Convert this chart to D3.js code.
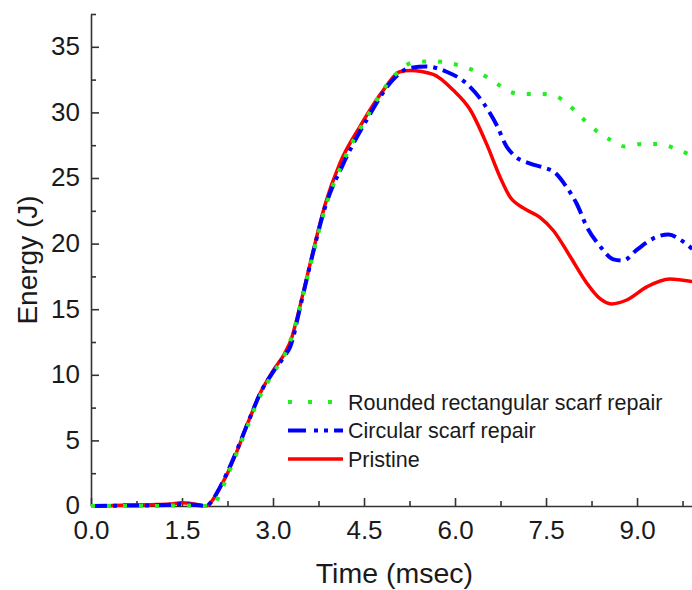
<!DOCTYPE html>
<html>
<head>
<meta charset="utf-8">
<script src="https://d3js.org/d3.v7.min.js"></script>
<style>
    body { margin: 0; background: #fff; }
    text { font-family: "Liberation Sans", Arial, sans-serif; fill: #1a1a1a; }
</style>
</head>
<body>
<div id="chart"></div>
<script>
// Time (msec) / Energy (J) values
var pristineX = [0, 0.5, 1.0, 1.3, 1.5, 1.7, 1.88, 1.98, 2.1, 2.25, 2.4, 2.6, 2.8, 3.0, 3.2, 3.3, 3.4, 3.5, 3.66, 3.86, 4.1, 4.43, 4.82, 5.09, 5.26, 5.64, 5.97, 6.25, 6.52, 6.74, 6.9, 7.13, 7.4, 7.62, 7.9, 8.17, 8.39, 8.58, 8.83, 9.16, 9.54, 9.91];
var pristineY = [0, 0.05, 0.1, 0.15, 0.25, 0.15, 0, 0.3, 1.2, 2.5, 4.1, 6.5, 8.7, 10.3, 11.7, 12.7, 14.4, 16.3, 19.4, 23.0, 26.1, 28.9, 31.7, 33.1, 33.2, 32.9, 31.7, 30.2, 27.6, 25.1, 23.6, 22.7, 22.0, 21.0, 19.0, 17.0, 15.8, 15.4, 15.7, 16.7, 17.3, 17.1];

var circularX = [0, 0.5, 1.0, 1.3, 1.5, 1.7, 1.9, 1.98, 2.1, 2.25, 2.4, 2.6, 2.8, 3.0, 3.2, 3.28, 3.33, 3.4, 3.5, 3.66, 3.86, 4.16, 4.54, 4.98, 5.26, 5.53, 5.86, 6.19, 6.47, 6.69, 6.85, 6.98, 7.24, 7.46, 7.65, 7.84, 8.01, 8.17, 8.39, 8.61, 8.77, 8.99, 9.27, 9.52, 9.71, 9.91];
var circularY = [0, 0.03, 0.05, 0.1, 0.15, 0.1, 0, 0.3, 1.2, 2.6, 4.2, 6.5, 8.7, 10.2, 11.5, 12.1, 12.8, 14.2, 16.2, 19.3, 22.8, 26.1, 29.4, 32.5, 33.4, 33.5, 33.1, 32.2, 30.7, 29.0, 27.4, 26.7, 26.1, 25.8, 25.4, 24.3, 23.0, 21.3, 19.8, 18.8, 18.7, 19.5, 20.4, 20.7, 20.3, 19.6];

var roundedX = [0, 0.5, 1.0, 1.5, 1.9, 2.02, 2.13, 2.25, 2.4, 2.6, 2.8, 3.0, 3.2, 3.33, 3.5, 3.66, 3.86, 4.16, 4.54, 4.98, 5.31, 5.64, 5.97, 6.36, 6.69, 6.85, 7.1, 7.43, 7.68, 7.84, 8.09, 8.25, 8.42, 8.61, 8.8, 9.08, 9.35, 9.6, 9.81, 9.95];
var roundedY = [0, 0, 0, 0.05, 0, 0.1, 1.0, 2.3, 4.0, 6.3, 8.5, 10.1, 11.6, 13.2, 16.2, 19.2, 22.7, 26.3, 29.6, 32.7, 33.8, 33.9, 33.7, 33.1, 32.2, 31.7, 31.4, 31.4, 31.2, 30.7, 29.6, 28.9, 28.3, 27.8, 27.4, 27.6, 27.6, 27.3, 26.9, 26.6];

var seriesNames = ["Rounded rectangular scarf repair", "Circular scarf repair", "Pristine"];
var xTicks = [0, 1.5, 3.0, 4.5, 6.0, 7.5, 9.0];
var yTicks = [0, 5, 10, 15, 20, 25, 30, 35];

var svgWidth = 692;
var svgHeight = 590;

var margin = { top: 14, right: 0, bottom: 84, left: 91 };

var svg = d3.select("#chart")
    .append("svg")
    .attr("width", svgWidth)
    .attr("height", svgHeight);

// axis runs to 10, picture is cut at the right edge
var xScale = d3.scaleLinear()
    .domain([0, 10])
    .range([margin.left, margin.left + 606.7]);

var yScale = d3.scaleLinear()
    .domain([0, 37.5])
    .range([svgHeight - margin.bottom, margin.top]);

var y0 = yScale(0);

// minor ticks first
var xMinor = d3.axisBottom(xScale)
    .tickValues(d3.range(0.75, 10, 1.5))
    .tickSize(-5)
    .tickFormat("");
svg.append("g")
    .attr("transform", `translate(0, ${y0})`)
    .call(xMinor)
    .call(g => g.select(".domain").remove());

var yMinor = d3.axisLeft(yScale)
    .tickValues(d3.range(2.5, 38, 5))
    .tickSize(-5)
    .tickFormat("");
svg.append("g")
    .attr("transform", `translate(${margin.left}, 0)`)
    .call(yMinor)
    .call(g => g.select(".domain").remove());

var xAxis = d3.axisBottom(xScale)
    .tickValues(xTicks)
    .tickSize(-8)
    .tickSizeOuter(0)
    .tickPadding(15)
    .tickFormat(d3.format(".1f"));
var xAxisG = svg.append("g")
    .attr("transform", `translate(0, ${y0})`)
    .call(xAxis);

var yAxis = d3.axisLeft(yScale)
    .tickValues(yTicks)
    .tickSize(-8)
    .tickSizeOuter(0)
    .tickPadding(11)
    .tickFormat(d3.format("d"));
var yAxisG = svg.append("g")
    .attr("transform", `translate(${margin.left}, 0)`)
    .call(yAxis);

svg.selectAll(".domain, .tick line")
    .attr("stroke", "#333")
    .attr("stroke-width", 1.6);

xAxisG.selectAll("text")
    .style("font-size", "26px")
    .style("font-family", "Liberation Sans, Arial, sans-serif")
    .attr("fill", "#1a1a1a");
yAxisG.selectAll("text")
    .style("font-size", "26px")
    .style("font-family", "Liberation Sans, Arial, sans-serif")
    .attr("fill", "#1a1a1a")
    .attr("dy", "0.3em");

// axis titles
svg.append("text")
    .attr("x", xScale(5))
    .attr("y", 583)
    .attr("text-anchor", "middle")
    .style("font-size", "28.5px")
    .text("Time (msec)");

svg.append("text")
    .attr("transform", "rotate(-90)")
    .attr("x", -(yScale(0) + yScale(37.5)) / 2)
    .attr("y", 37)
    .attr("text-anchor", "middle")
    .style("font-size", "28px")
    .text("Energy (J)");

// curves
var line = d3.line()
    .x(d => xScale(d[0]))
    .y(d => yScale(d[1]))
    .curve(d3.curveMonotoneX);

var series = [
    { name: seriesNames[2], pts: d3.zip(pristineX, pristineY), color: "#ff0000", width: 3.5, dash: null },
    { name: seriesNames[1], pts: d3.zip(circularX, circularY), color: "#0000ff", width: 4, dash: "16 6 4 6" },
    { name: seriesNames[0], pts: d3.zip(roundedX, roundedY), color: "#22ee22", width: 4, dash: "4 12" }
];

series.forEach(function(s) {
    svg.append("path")
        .datum(s.pts)
        .attr("fill", "none")
        .attr("stroke", s.color)
        .attr("stroke-width", s.width)
        .attr("stroke-dasharray", s.dash)
        .attr("d", line);
});

// legend
var legendRows = [
    { name: seriesNames[0], color: "#22ee22", width: 4, dash: "4 16" },
    { name: seriesNames[1], color: "#0000ff", width: 4, dash: "18 8 4 6 4 6" },
    { name: seriesNames[2], color: "#ff0000", width: 3.5, dash: null }
];

var legend = svg.append("g")
    .attr("transform", "translate(288, 402)");

legendRows.forEach(function(r, i) {
    var row = legend.append("g")
        .attr("transform", `translate(0, ${i * 28.5})`);
    row.append("line")
        .attr("x1", 0)
        .attr("x2", 55)
        .attr("stroke", r.color)
        .attr("stroke-width", r.width)
        .attr("stroke-dasharray", r.dash);
    row.append("text")
        .attr("x", 60)
        .attr("dy", "0.35em")
        .style("font-size", "21.5px")
        .text(r.name);
});
</script>
</body>
</html>
